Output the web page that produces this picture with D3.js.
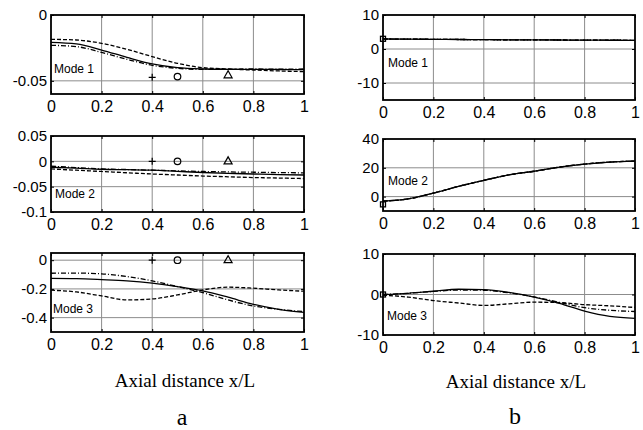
<!DOCTYPE html>
<html>
<head>
<meta charset="utf-8">
<script src="https://cdn.jsdelivr.net/npm/d3@7"></script>
<style>
  body { margin: 0; background: #fff; }
  svg { display: block; }
</style>
</head>
<body>
<script>
// consts
const width = 643;
const height = 430;

// data
const xs = [0, 0.1, 0.2, 0.3, 0.4, 0.5, 0.6, 0.7, 0.8, 0.9, 1];
const xTicks = [0, 0.2, 0.4, 0.6, 0.8, 1];
const xTickLabels = ["0", "0.2", "0.4", "0.6", "0.8", "1"];

// panel a - mode 1
const a1Solid   = [-0.0208, -0.0220, -0.0266, -0.0322, -0.0372, -0.0400, -0.0410, -0.0413, -0.0413, -0.0414, -0.0415];
const a1Dash    = [-0.0185, -0.0190, -0.0215, -0.0260, -0.0316, -0.0367, -0.0400, -0.0410, -0.0418, -0.0425, -0.0430];
const a1DashDot = [-0.0230, -0.0240, -0.0284, -0.0337, -0.0382, -0.0405, -0.0413, -0.0411, -0.0410, -0.0411, -0.0410];
// panel a - mode 2
const a2Solid   = [-0.0117, -0.0135, -0.0156, -0.0165, -0.0175, -0.0198, -0.0220, -0.0236, -0.0250, -0.0262, -0.0270];
const a2Dash    = [-0.0150, -0.0175, -0.0200, -0.0225, -0.0250, -0.0270, -0.0290, -0.0305, -0.0320, -0.0330, -0.0340];
const a2DashDot = [-0.0097, -0.0123, -0.0150, -0.0162, -0.0175, -0.0188, -0.0200, -0.0209, -0.0215, -0.0222, -0.0227];
// panel a - mode 3
const a3Solid   = [-0.126, -0.128, -0.135, -0.144, -0.160, -0.184, -0.214, -0.258, -0.307, -0.342, -0.363];
const a3Dash    = [-0.209, -0.221, -0.249, -0.277, -0.270, -0.242, -0.207, -0.188, -0.195, -0.207, -0.216];
const a3DashDot = [-0.091, -0.090, -0.095, -0.114, -0.144, -0.184, -0.226, -0.277, -0.319, -0.342, -0.358];
// panel a - point markers (+, o, triangle)
const aMarkX = [0.4, 0.5, 0.7];
const a1MarkY = [-0.0473, -0.0468, -0.0458];
const a2MarkY = [0, 0, 0];
const a3MarkY = [0, 0, 0];

// panel b - mode 1
const b1Solid   = [2.95, 2.9, 2.85, 2.8, 2.75, 2.7, 2.68, 2.65, 2.6, 2.58, 2.55];
const b1Dash    = [2.95, 2.9, 2.85, 2.8, 2.75, 2.7, 2.68, 2.65, 2.6, 2.58, 2.55];
const b1DashDot = [2.95, 2.9, 2.85, 2.8, 2.75, 2.7, 2.68, 2.65, 2.6, 2.58, 2.55];
// panel b - mode 2
const b2Solid   = [-3.1, -1.6, 2.4, 7.1, 11.3, 15.1, 17.6, 20.5, 22.6, 24.0, 24.7];
const b2Dash    = [-3.1, -1.6, 2.4, 7.1, 11.3, 15.1, 17.6, 20.5, 22.6, 24.0, 24.7];
const b2DashDot = [-3.1, -1.6, 2.4, 7.1, 11.3, 15.1, 17.6, 20.5, 22.6, 24.0, 24.7];
// panel b - mode 3
const b3Solid   = [0, 0.3, 0.8, 1.3, 1.2, 0.5, -0.65, -2.2, -4.1, -5.4, -5.9];
const b3Dash    = [-0.15, -0.65, -1.5, -2.1, -2.7, -2.3, -1.9, -2.0, -2.5, -2.8, -3.2];
const b3DashDot = [0, 0.3, 0.75, 1.1, 1.05, 0.4, -0.6, -1.95, -3.25, -3.9, -4.2];
// panel b - square markers at x = 0
const bSquareY = [3.0, -5.4, 0];

// y ticks
const a1Ticks = [-0.05, 0],             a1Labels = ["-0.05", "0"];
const a2Ticks = [-0.1, -0.05, 0, 0.05], a2Labels = ["-0.1", "-0.05", "0", "0.05"];
const a3Ticks = [-0.4, -0.2, 0],        a3Labels = ["-0.4", "-0.2", "0"];
const b1Ticks = [-10, 0, 10],           b1Labels = ["-10", "0", "10"];
const b2Ticks = [0, 20, 40],            b2Labels = ["0", "20", "40"];
const b3Ticks = [-10, 0, 10],           b3Labels = ["-10", "0", "10"];

// layout of the six boxes
const panels = [
  {x0: 51,  x1: 304, y0: 15,  y1: 94,  dom: [-0.06, 0],   ticks: a1Ticks, labels: a1Labels, mode: "Mode 1", mx: 54,  my: 69,
   series: [a1Solid, a1Dash, a1DashDot], marks: a1MarkY},
  {x0: 51,  x1: 304, y0: 136, y1: 212, dom: [-0.1, 0.05], ticks: a2Ticks, labels: a2Labels, mode: "Mode 2", mx: 55,  my: 194,
   series: [a2Solid, a2Dash, a2DashDot], marks: a2MarkY},
  {x0: 51,  x1: 304, y0: 253, y1: 332, dom: [-0.5, 0.05], ticks: a3Ticks, labels: a3Labels, mode: "Mode 3", mx: 53,  my: 309,
   series: [a3Solid, a3Dash, a3DashDot], marks: a3MarkY},
  {x0: 383, x1: 635, y0: 15,  y1: 100, dom: [-15, 10],    ticks: b1Ticks, labels: b1Labels, mode: "Mode 1", mx: 388, my: 63,
   series: [b1Solid, b1Dash, b1DashDot], square: bSquareY[0]},
  {x0: 383, x1: 635, y0: 139, y1: 211, dom: [-10, 40],    ticks: b2Ticks, labels: b2Labels, mode: "Mode 2", mx: 388, my: 181,
   series: [b2Solid, b2Dash, b2DashDot], square: bSquareY[1]},
  {x0: 383, x1: 635, y0: 254, y1: 335, dom: [-10, 10],    ticks: b3Ticks, labels: b3Labels, mode: "Mode 3", mx: 387, my: 316,
   series: [b3Solid, b3Dash, b3DashDot], square: bSquareY[2]}
];

const dashes = [null, "4,2", "5,2,1,2"];
const sans = "Arial, 'Liberation Sans', Helvetica, sans-serif";
const serif = "'Times New Roman', 'Liberation Serif', serif";

// SVG
const svg = d3.select("body").append("svg")
  .attr("width", width)
  .attr("height", height);

panels.forEach(p => {
  const xScale = d3.scaleLinear().domain([0, 1]).range([p.x0, p.x1]);
  const yScale = d3.scaleLinear().domain(p.dom).range([p.y1, p.y0]);
  const g = svg.append("g");

  // grid
  g.selectAll(".vgrid").data(xTicks.slice(1, -1)).enter().append("line")
    .attr("x1", d => xScale(d)).attr("x2", d => xScale(d))
    .attr("y1", p.y0).attr("y2", p.y1)
    .attr("stroke", "#8c8c8c").attr("stroke-width", 1);
  g.selectAll(".hgrid").data(p.ticks.filter(t => yScale(t) > p.y0 + 1 && yScale(t) < p.y1 - 1)).enter().append("line")
    .attr("x1", p.x0).attr("x2", p.x1)
    .attr("y1", d => yScale(d)).attr("y2", d => yScale(d))
    .attr("stroke", "#8c8c8c").attr("stroke-width", 1);

  // curves
  const line = d3.line()
    .x((d, i) => xScale(xs[i]))
    .y(d => yScale(d))
    .curve(d3.curveMonotoneX);
  p.series.forEach((s, i) => {
    g.append("path")
      .attr("d", line(s))
      .attr("fill", "none")
      .attr("stroke", "#000")
      .attr("stroke-width", 1.3)
      .attr("stroke-dasharray", dashes[i]);
  });

  // markers
  if (p.marks) {
    const [mp, mo, mt] = p.marks;
    const px = xScale(aMarkX[0]), py = yScale(mp);
    g.append("path").attr("d", `M${px - 3.5},${py}H${px + 3.5}M${px},${py - 3.5}V${py + 3.5}`)
      .attr("stroke", "#000").attr("stroke-width", 1.2);
    g.append("circle").attr("cx", xScale(aMarkX[1])).attr("cy", yScale(mo)).attr("r", 3.3)
      .attr("fill", "none").attr("stroke", "#000").attr("stroke-width", 1.2);
    const tx = xScale(aMarkX[2]), ty = yScale(mt);
    g.append("path").attr("d", `M${tx - 4},${ty + 2.5}L${tx + 4},${ty + 2.5}L${tx},${ty - 4.5}Z`)
      .attr("fill", "none").attr("stroke", "#000").attr("stroke-width", 1.2);
  }
  if (p.square !== undefined) {
    g.append("rect")
      .attr("x", xScale(0) - 2.5).attr("y", yScale(p.square) - 2.5)
      .attr("width", 5).attr("height", 5)
      .attr("fill", "none").attr("stroke", "#000").attr("stroke-width", 1.3);
  }

  // axes with inward ticks on all four sides
  const bottomAxis = d3.axisBottom(xScale).tickValues(xTicks).tickSizeInner(-3).tickSizeOuter(0)
    .tickFormat((d, i) => xTickLabels[i]).tickPadding(7);
  const topAxis = d3.axisTop(xScale).tickValues(xTicks).tickSizeInner(-3).tickSizeOuter(0).tickFormat("");
  const leftAxis = d3.axisLeft(yScale).tickValues(p.ticks).tickSizeInner(-3).tickSizeOuter(0)
    .tickFormat((d, i) => p.labels[i]).tickPadding(4);
  const rightAxis = d3.axisRight(yScale).tickValues(p.ticks).tickSizeInner(-3).tickSizeOuter(0).tickFormat("");

  const axes = [
    g.append("g").attr("transform", `translate(0,${p.y1})`).call(bottomAxis),
    g.append("g").attr("transform", `translate(0,${p.y0})`).call(topAxis),
    g.append("g").attr("transform", `translate(${p.x0},0)`).call(leftAxis),
    g.append("g").attr("transform", `translate(${p.x1},0)`).call(rightAxis)
  ];
  axes.forEach(a => {
    a.select(".domain").remove();
    a.selectAll("line").attr("stroke", "#000");
    a.selectAll("text").attr("fill", "#000").style("font-family", sans).style("font-size", "15px");
  });
  axes[0].selectAll("text").attr("dy", "0.71em").style("font-size", "16px");

  // frame
  g.append("rect")
    .attr("x", p.x0).attr("y", p.y0)
    .attr("width", p.x1 - p.x0).attr("height", p.y1 - p.y0)
    .attr("fill", "none").attr("stroke", "#000").attr("stroke-width", 1.8);

  g.append("text")
    .attr("x", p.mx).attr("y", p.my)
    .attr("dy", "0.35em")
    .style("font-family", sans).style("font-size", "12px")
    .text(p.mode);
});

// titles
const titles = [
  {x: 185, y: 387, t: "Axial distance x/L", s: 19},
  {x: 516, y: 388, t: "Axial distance x/L", s: 19},
  {x: 182, y: 425, t: "a", s: 24},
  {x: 515, y: 424, t: "b", s: 24}
];
svg.selectAll(".title").data(titles).enter().append("text")
  .attr("x", d => d.x).attr("y", d => d.y)
  .attr("text-anchor", "middle")
  .style("font-family", serif)
  .style("font-size", d => d.s + "px")
  .text(d => d.t);
</script>
</body>
</html>
